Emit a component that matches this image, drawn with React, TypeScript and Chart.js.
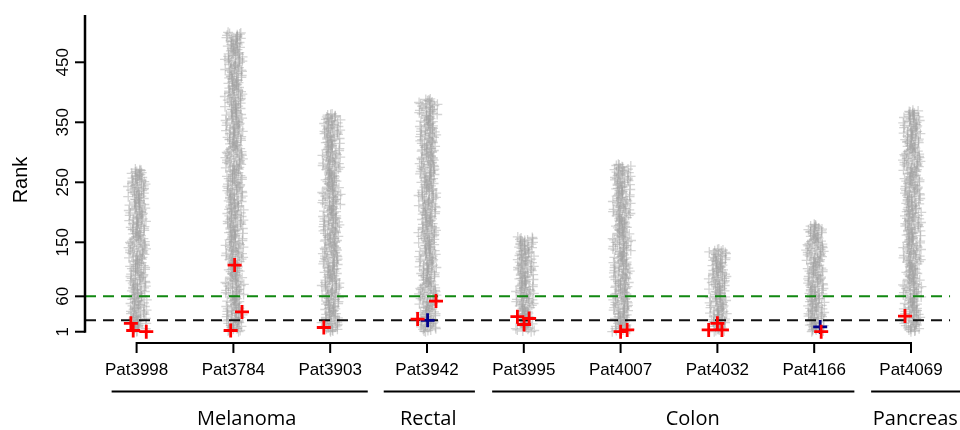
import React, { useEffect, useRef } from "react";
import { Chart, registerables } from "chart.js";

Chart.register(...registerables);

// ---- data ----
const PATIENTS = ["Pat3998", "Pat3784", "Pat3903", "Pat3942", "Pat3995", "Pat4007", "Pat4032", "Pat4166", "Pat4069"];
const MAX_RANK = [272, 500, 364, 389, 159, 280, 139, 180, 370];
const GROUPS = ["Melanoma", "Rectal", "Colon", "Pancreas"];
const GROUP_LINE_START = [-0.258, 2.553, 3.673, 7.588];
const GROUP_LINE_END = [2.388, 3.495, 7.415, 8.6];
const GROUP_LABEL_AT = [1.137, 3.013, 5.745, 8.044];
const Y_TICKS = [1, 60, 150, 250, 350, 450];
const CUTOFF_GREEN = 60;
const CUTOFF_BLACK = 20;
// two fixed horizontal jitter patterns (category units) for the background ranks
const JITTER_A = [
  -0.071, 0.034, -0.018, 0.066, -0.052, 0.004, 0.081, -0.038, 0.047, -0.083, 0.017, -0.009, 0.058,
  -0.064, 0.026, 0.073, -0.027, -0.077, 0.041, 0.009, -0.045, 0.062, -0.003, 0.085, -0.058, 0.021,
  -0.086, 0.051, -0.032, 0.012, 0.069,
];
const JITTER_B = [0.04, -0.07, 0.015, 0.08, -0.03, -0.085, 0.06, 0.0, -0.05, 0.075, -0.015, 0.03, -0.065, 0.05, -0.04, 0.085, -0.08];

const RED_PATIENT = [0, 0, 0, 1, 1, 1, 2, 3, 3, 4, 4, 4, 5, 5, 6, 6, 6, 7, 8];
const RED_RANK = [15, 3, 1, 112, 34, 3, 8, 22, 52, 26, 13, 23, 1, 4, 4, 15, 4, 1, 27];
const RED_JITTER = [-0.059, -0.035, 0.1, 0.013, 0.089, -0.028, -0.066, -0.097, 0.093, -0.066, 0.003, 0.055, 0, 0.068, -0.09, 0, 0.047, 0.072, -0.062];
const BLUE_PATIENT = [3, 7];
const BLUE_RANK = [20, 9];
const BLUE_JITTER = [0.006, 0.062];

const X_MIN = -0.533;
const X_MAX = 8.405;
const Y_MIN = -17.8;
const Y_MAX = 528.8;

const grayPoints: { x: number; y: number }[] = [];
PATIENTS.forEach((_, i) => {
  for (let r = 1; r <= MAX_RANK[i]; r++) {
    const a = JITTER_A[(r + i * 5) % JITTER_A.length];
    const b = JITTER_B[(r + i * 3) % JITTER_B.length];
    grayPoints.push({ x: i + 0.01 + 0.7 * a + 0.45 * b, y: r });
  }
});
const redPoints = RED_RANK.map((r, k) => ({ x: RED_PATIENT[k] + RED_JITTER[k], y: r }));
const bluePoints = BLUE_RANK.map((r, k) => ({ x: BLUE_PATIENT[k] + BLUE_JITTER[k], y: r }));

const axesPlugin = {
  id: "rAxes",
  afterDatasetsDraw(chart: any) {
    const { ctx, scales } = chart;
    const xs = scales.x;
    const ys = scales.y;
    const area = chart.chartArea;
    ctx.save();
    ctx.strokeStyle = "#000";
    ctx.fillStyle = "#000";
    ctx.lineCap = "butt";
    // y axis
    ctx.lineWidth = 2.5;
    ctx.beginPath();
    ctx.moveTo(area.left, area.top);
    ctx.lineTo(area.left, ys.getPixelForValue(Y_TICKS[0]) + 1);
    ctx.stroke();
    ctx.lineWidth = 2;
    ctx.font = '17px "Liberation Sans", Arial, sans-serif';
    ctx.textAlign = "center";
    ctx.textBaseline = "middle";
    Y_TICKS.forEach((t) => {
      const py = ys.getPixelForValue(t);
      ctx.beginPath();
      ctx.moveTo(area.left, py);
      ctx.lineTo(area.left - 10, py);
      ctx.stroke();
      ctx.save();
      ctx.translate(63, py);
      ctx.rotate(-Math.PI / 2);
      ctx.fillText(String(t), 0, 0);
      ctx.restore();
    });
    // y title
    ctx.save();
    ctx.font = '20px "Liberation Sans", Arial, sans-serif';
    ctx.translate(21, 180);
    ctx.rotate(-Math.PI / 2);
    ctx.fillText("Rank", 0, 0);
    ctx.restore();
    // x axis
    const axisY = area.bottom;
    ctx.lineWidth = 2;
    ctx.beginPath();
    ctx.moveTo(xs.getPixelForValue(0), axisY);
    ctx.lineTo(xs.getPixelForValue(PATIENTS.length - 1), axisY);
    ctx.stroke();
    PATIENTS.forEach((p, i) => {
      const px = xs.getPixelForValue(i);
      ctx.beginPath();
      ctx.moveTo(px, axisY - 1);
      ctx.lineTo(px, axisY + 10);
      ctx.stroke();
      ctx.fillText(p, px, axisY + 27);
    });
    // groups
    ctx.font = '20px "Open Sans", sans-serif';
    GROUPS.forEach((g, k) => {
      ctx.beginPath();
      ctx.moveTo(xs.getPixelForValue(GROUP_LINE_START[k]), axisY + 48.5);
      ctx.lineTo(Math.min(xs.getPixelForValue(GROUP_LINE_END[k]), chart.width), axisY + 48.5);
      ctx.stroke();
      ctx.fillText(g, xs.getPixelForValue(GROUP_LABEL_AT[k]), axisY + 76);
    });
    ctx.restore();
  },
};

export default function App() {
  const ref = useRef<HTMLCanvasElement | null>(null);
  useEffect(() => {
    if (!ref.current) return;
    const chart = new Chart(ref.current, {
      type: "scatter",
      data: {
        datasets: [
          {
            label: "red",
            data: redPoints,
            pointStyle: "cross",
            pointRadius: 7,
            borderColor: "#ff0000",
            backgroundColor: "#ff0000",
            borderWidth: 2.8,
            order: 0,
          },
          {
            label: "blue",
            data: bluePoints,
            pointStyle: "cross",
            pointRadius: 7,
            borderColor: "#00008b",
            backgroundColor: "#00008b",
            borderWidth: 2.8,
            order: 0,
          },
          {
            label: "cut60",
            type: "line",
            data: [
              { x: X_MIN, y: CUTOFF_GREEN },
              { x: X_MAX, y: CUTOFF_GREEN },
            ],
            borderColor: "#118811",
            borderWidth: 2,
            borderDash: [11, 7],
            pointRadius: 0,
            order: 1,
          },
          {
            label: "cut20",
            type: "line",
            data: [
              { x: X_MIN, y: CUTOFF_BLACK },
              { x: X_MAX, y: CUTOFF_BLACK },
            ],
            borderColor: "#111111",
            borderWidth: 2,
            borderDash: [11, 7],
            pointRadius: 0,
            order: 1,
          },
          {
            label: "all",
            data: grayPoints,
            pointStyle: "cross",
            pointRadius: 5,
            borderColor: "rgba(160,160,160,0.45)",
            backgroundColor: "rgba(160,160,160,0.45)",
            borderWidth: 1.3,
            order: 2,
          },
        ] as any,
      },
      options: {
        responsive: false,
        animation: false,
        devicePixelRatio: 1,
        events: [],
        layout: { padding: { left: 85, top: 15, right: 8, bottom: 87 } },
        plugins: { legend: { display: false }, tooltip: { enabled: false } },
        scales: {
          x: { type: "linear", min: X_MIN, max: X_MAX, display: false },
          y: { type: "linear", min: Y_MIN, max: Y_MAX, display: false },
        },
      },
      plugins: [axesPlugin],
    });
    return () => chart.destroy();
  }, []);
  return (
    <div style={{ position: "absolute", left: 0, top: 0, width: 960, height: 430, background: "#fff" }}>
      <canvas ref={ref} width={960} height={430} />
    </div>
  );
}
